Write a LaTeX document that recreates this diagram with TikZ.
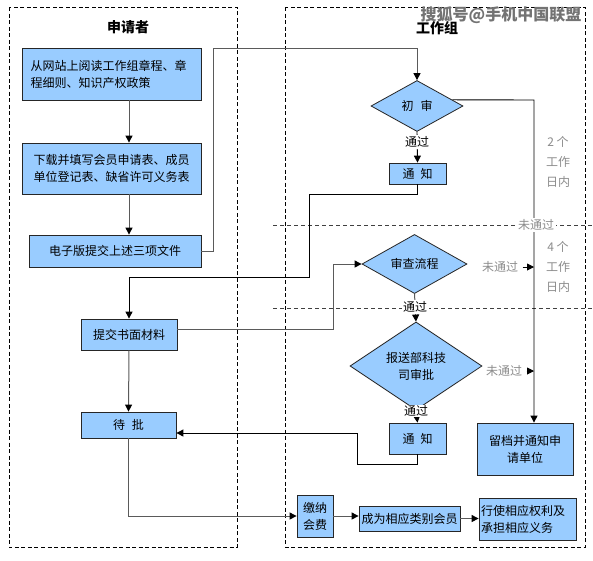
\documentclass[tikz,border=0pt]{standalone}
\usepackage{fontspec}
\newfontfamily\cjk{Noto Sans CJK SC}
\usetikzlibrary{shapes.geometric,arrows.meta}
\definecolor{boxblue}{HTML}{99CCFF}
\definecolor{lineg}{HTML}{5A5A5A}
\definecolor{labg}{HTML}{8C8C8C}
\begin{document}
\begin{tikzpicture}[x=1pt,y=-1pt,
  font=\cjk\fontsize{12}{17}\selectfont,
  box/.style={draw=black!85, fill=boxblue, line width=0.8pt, inner sep=1pt},
  dia/.style={diamond, draw=black!85, fill=boxblue, line width=0.8pt, inner sep=0pt},
  frame/.style={draw=black, line width=0.8pt, dash pattern=on 4pt off 2.5pt},
  sep/.style={draw=black!75, line width=0.8pt, dash pattern=on 4pt off 3pt},
  conn/.style={draw=lineg, line width=1pt, -{Triangle[length=7pt,width=7pt,color=black]}},
  connk/.style={draw=black, line width=0.9pt, -{Triangle[length=7pt,width=7pt,color=black]}},
  lab/.style={fill=white, inner sep=1.5pt},
  glab/.style={fill=white, inner sep=1.5pt, text=labg},
  title/.style={font=\cjk\bfseries\fontsize{14}{16}\selectfont}
]
\useasboundingbox (0,0) rectangle (593,560);
\fill[white] (0,0) rectangle (593,560);

% frames
\draw[frame] (9,7) rectangle (237,547);
\draw[frame] (285,7) rectangle (585,547);
\draw[sep] (273,225) -- (593,225);
\draw[sep] (273,308) -- (593,308);

% titles
\node[title] (t1) at (128,27) {申请者};
\node[title] (t2) at (437,28) {工作组};
\node[font=\cjk\bfseries\fontsize{16}{16}\selectfont, text=black!55] (wm) at (501,15) {搜狐号@手机中国联盟};

% left column
\node[box, minimum width=179pt, minimum height=52pt, text width=162pt, align=left] (b1) at (111.5,74)
  {从网站上阅读工作组章程、章\\程细则、知识产权政策};
\node[box, minimum width=179pt, minimum height=51pt, align=center] (b2) at (111.5,168.5)
  {下载并填写会员申请表、成员\\单位登记表、缺省许可义务表};
\node[box, minimum width=172pt, minimum height=32pt] (b3) at (115,251) {电子版提交上述三项文件};
\node[box, minimum width=96pt, minimum height=31pt] (b4) at (129,334.5) {提交书面材料};
\node[box, minimum width=95pt, minimum height=26pt] (b5) at (128.5,425) {待\hspace{7pt}批};

% right column
\node[dia, minimum width=92pt, minimum height=51pt] (chu) at (417,106) {初\hspace{7pt}审};
\node[box, minimum width=57pt, minimum height=21pt] (tz1) at (417.5,173.5) {通\hspace{6pt}知};
\node[dia, minimum width=105pt, minimum height=44pt] (sc) at (414.5,264) {审查流程};
\node[dia, minimum width=132pt, minimum height=72pt, align=center] (bs) at (416,366) {报送部科技\\司审批};
\node[box, minimum width=57pt, minimum height=31pt] (tz2) at (417.5,438.5) {通\hspace{6pt}知};
\node[box, minimum width=96pt, minimum height=52pt, align=center] (ld) at (525,449) {留档并通知申\\请单位};
\node[box, minimum width=36pt, minimum height=42pt, align=center] (jn) at (315,516) {缴纳\\会费};
\node[box, minimum width=101pt, minimum height=25pt, inner sep=0pt] (cw) at (409.5,518.5) {成为相应类别会员};
\node[box, minimum width=97pt, minimum height=42pt, text width=93pt, align=left] (xs) at (527.5,519)
  {行使相应权利及\\承担相应义务};

% helper coordinates
\coordinate (colA) at (129,0);
\coordinate (c1) at (213,48);
\coordinate (c2) at (309,194);
\coordinate (c3) at (309,277);
\coordinate (c4) at (333,329);
\coordinate (c5) at (357,464);
\coordinate (c6) at (357,433);
\coordinate (r1) at (534,100);

% connectors
\draw[conn] (b1.south -| colA) -- (b2.north -| colA);
\draw[conn] (b2.south -| colA) -- (b3.north -| colA);
\draw[conn] (b3.east) -| (c1) -| (chu.north);
\draw[connk] (chu.south) -- (tz1.north);
\draw[connk] (tz1.south) |- (c2) -- (c3) -| (b4.north);
\draw[conn] (b4.south) -- (b5.north);
\draw[conn] (b4.east |- c4) -- (c4) |- (sc.west);
\draw[conn] (sc.south) -- (bs.north);
\draw[connk] (bs.south) -- (tz2.north);
\draw[connk] (tz2.south) |- (c5) -- (c6) -- (c6 -| b5.east);
\draw[conn] (b5.south) |- (jn.west);
\draw[conn] (jn.east) -- (jn.east -| cw.west);
\draw[conn] (cw.east) -- (cw.east -| xs.west);
\draw[connk] (chu.10) -- (r1) -- (r1 |- ld.north);

% labels
\node[lab] (p1) at (417,142) {通过};
\node[lab] (p2) at (415,307) {通过};
\node[lab, inner sep=0.5pt] (p3) at (416,411) {通过};
\node[glab] (n1) at (536,225) {未通过};
\node[glab] (n2) at (500,267) {未通过};
\node[glab] (n3) at (504,371) {未通过};
\draw[connk, shorten <=3pt] (n2.east) -- (n2.east -| r1);
\draw[connk, shorten <=3pt] (n3.east) -- (n3.east -| r1);
\node[text=labg, align=center, font=\cjk\fontsize{12}{20}\selectfont] (d1) at (558,162) {2 个\\工作\\日内};
\node[text=labg, align=center, font=\cjk\fontsize{12}{20}\selectfont] (d2) at (558,267) {4 个\\工作\\日内};
\end{tikzpicture}
\end{document}
